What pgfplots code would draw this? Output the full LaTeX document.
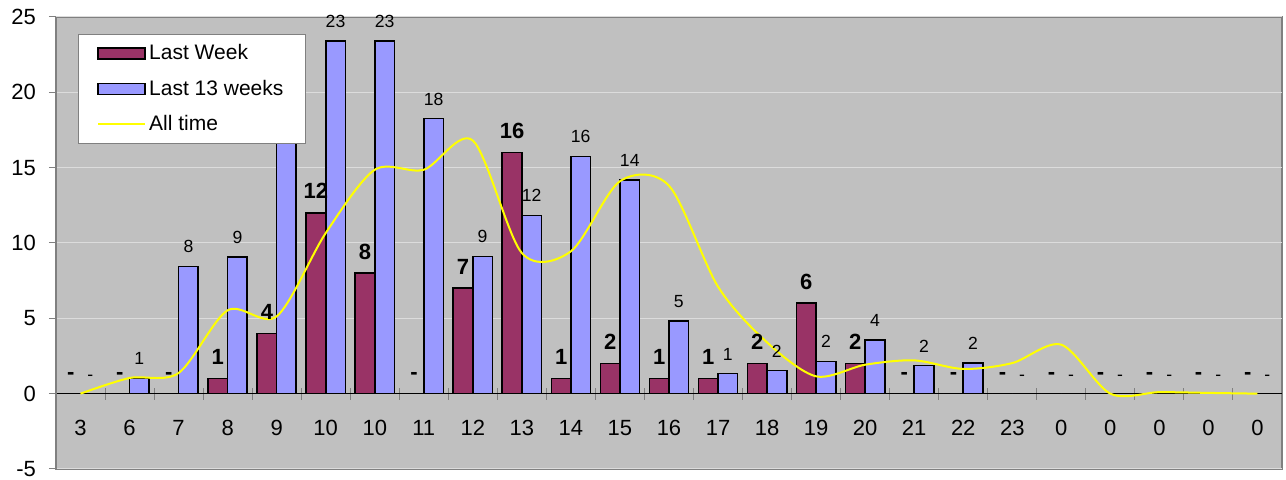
\documentclass[border=0pt]{standalone}
\usepackage{pgfplots}
\usepackage{pgfplotstable}
\pgfplotsset{compat=1.18}
\usepackage{fontspec}
\setmainfont{Liberation Sans}

\definecolor{lastweek}{HTML}{993366}
\definecolor{lastthirteen}{HTML}{9999FF}
\definecolor{alltime}{HTML}{FFFF00}
\definecolor{plotbg}{HTML}{C0C0C0}
\definecolor{framec}{HTML}{808080}
\definecolor{gridc}{HTML}{DCDCDC}

% idx lw l13 all
\pgfplotstableread{
x  lw  l13    all
0  0   0      0
1  0   1.0    1.04
2  0   8.45   1.37
3  1   9.09   5.53
4  4   19.2   5.13
5  12  23.4   10.66
6  8   23.4   14.86
7  0   18.25  14.86
8  7   9.1    16.8
9  16  11.83  9.33
10 1   15.75  9.45
11 2   14.18  14.1
12 1   4.84   13.8
13 1   1.33   7.1
14 2   1.53   3.4
15 6   2.14   1.15
16 2   3.55   1.92
17 0   1.86   2.21
18 0   2.03   1.64
19 0   0      2.03
20 0   0      3.25
21 0   0      0
22 0   0      0.1
23 0   0      0.05
24 0   0      0
}\datatable

\pgfplotsset{
  dashzero/.style={
    point meta=y,
    nodes near coords={\pgfmathfloatifflags{\pgfplotspointmeta}{0}{-}{\pgfmathprintnumber[fixed,precision=0,assume math mode=true]{\pgfplotspointmeta}}},
  },
}

\begin{document}
\begin{tikzpicture}
\path[use as bounding box] (-28pt,-5.5pt) rectangle (615pt,234.5pt);
\begin{axis}[
  at={(0pt,0pt)}, anchor=south west,
  width=613pt, height=226pt, scale only axis,
  xmin=-0.5, xmax=24.5, ymin=-5, ymax=25,
  axis x line=middle, axis y line=left,
  x axis line style={black, line width=0.6pt, -},
  y axis line style={framec, line width=0.8pt, -},
  axis background/.style={fill=plotbg, draw=framec, line width=0.8pt},
  clip=false,
  tick align=outside,
  xtick={0,...,24},
  xticklabels={3,6,7,8,9,10,10,11,12,13,14,15,16,17,18,19,20,21,22,23,0,0,0,0,0},
  major x tick style={draw=none},
  minor xtick={-0.5,0.5,...,24.5},
  minor x tick style={framec, yshift=3pt, line width=0.5pt},
  minor tick length=6pt,
  major tick length=3.5pt,
  xticklabel style={anchor=center, yshift=-13.5pt},
  ytick={-5,0,...,25},
  yticklabels={-5,0,5,10,15,20,25},
  yticklabel style={xshift=-3pt},
  y tick style={framec, line width=0.5pt},
  ymajorgrids, grid style={gridc, line width=0.5pt},
  tick label style={font=\fontsize{11}{13}\selectfont},
  bar width=0.4,
  legend cell align=left,
  legend style={at={(rel axis cs:0.0177,0.962)}, anchor=north west,
    fill=white, draw=framec, line width=0.5pt,
    font=\fontsize{10.5}{13}\selectfont,
    inner xsep=9.5pt, inner ysep=3.5pt, row sep=5.5pt,
    nodes={inner sep=1.5pt}},
]
\addplot[ybar, bar shift=-0.2, fill=lastweek, draw=black, line width=0.8pt,
  dashzero,
  every node near coord/.append style={font=\bfseries\fontsize{11}{13}\selectfont,
    anchor=base, xshift=-4.9pt, yshift=7pt, text=black},
  legend image code/.code={\draw[fill=lastweek, draw=black, line width=0.9pt]
    (0pt,-2.75pt) rectangle (23.5pt,2.75pt);},
] table[x=x, y=lw] {\datatable};
\addlegendentry{Last Week}

\addplot[ybar, bar shift=0.2, fill=lastthirteen, draw=black, line width=0.8pt,
  dashzero,
  every node near coord/.append style={font=\fontsize{8.8}{10}\selectfont,
    anchor=base, xshift=4.9pt, yshift=6.8pt, text=black},
  legend image code/.code={\draw[fill=lastthirteen, draw=black, line width=0.9pt]
    (0pt,-2.75pt) rectangle (23.5pt,2.75pt);},
] table[x=x, y=l13] {\datatable};
\addlegendentry{Last 13 weeks}

\addplot[smooth, color=alltime, line width=1pt, mark=none,
  legend image code/.code={\draw[alltime, line width=1pt] (0pt,0pt) -- (23.5pt,0pt);},
] table[x=x, y=all] {\datatable};
\addlegendentry{All time}
\end{axis}
\end{tikzpicture}
\end{document}
